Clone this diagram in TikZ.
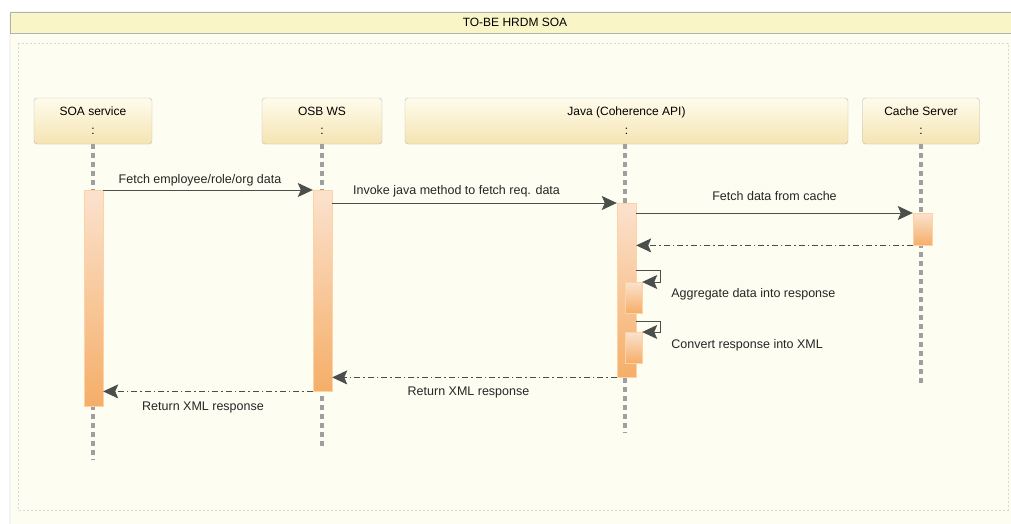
\documentclass[tikz,border=0pt]{standalone}
\usepackage{fontspec}
\setmainfont{Liberation Sans}
\usetikzlibrary{arrows.meta, positioning}
\definecolor{paper}{HTML}{FDFDF1}
\definecolor{band}{HTML}{FAF5C6}
\definecolor{headtop}{HTML}{FFFCEC}
\definecolor{headbot}{HTML}{F5E4B2}
\definecolor{bartop}{HTML}{FBE2CE}
\definecolor{barbot}{HTML}{F5AE68}
\definecolor{ink}{HTML}{4A4F4C}

\tikzset{
  head/.style={draw=gray!55, rounded corners=3pt, top color=headtop, bottom color=headbot,
    minimum height=46pt, align=center, font=\fontsize{12}{19}\selectfont, inner sep=0pt},
  life/.style={draw=gray!75, line width=3.5pt, dash pattern=on 5pt off 4pt},
  actbar/.style={draw=orange!35, top color=bartop, bottom color=barbot, minimum width=19pt,
    inner sep=0pt, anchor=north},
  msg/.style={draw=ink, line width=0.8pt, -{Stealth[length=15pt,width=14pt,inset=3pt]}},
  ret/.style={msg, dash pattern=on 6pt off 3pt on 1.5pt off 3pt},
  lbl/.style={font=\fontsize{12.5}{14}\selectfont, text=black!85, inner sep=1pt}
}

\begin{document}
\begin{tikzpicture}[x=1pt, y=-1pt]
\useasboundingbox (0,0) rectangle (1011,523);
\fill[white] (0,0) rectangle (1011,523);
\draw[gray!60, fill=paper, rounded corners=3pt] (10,12) rectangle (1030,560);
\draw[gray!60, fill=band] (10,12) rectangle (1030,33);
\node[font=\fontsize{12}{14}\selectfont] (title) at (515,22.5) {TO-BE HRDM SOA};
\draw[gray!30, dash pattern=on 2pt off 2pt] (18,43) rectangle (1008,510);

\node[head, minimum width=118pt] (soa) at (93,121) {SOA service\\:};
\node[head, minimum width=120pt] (osb) at (322,121) {OSB WS\\:};
\node[head, minimum width=443pt] (java) at (626.5,121) {Java (Coherence API)\\:};
\node[head, minimum width=117pt] (cache) at (921,121) {Cache Server\\:};

\coordinate (soaend) at (93,460);
\coordinate (osbend) at (322,447);
\coordinate (javaend) at (625,433);
\coordinate (cacheend) at (921,383);
\draw[life] (soa.south) -- (soaend);
\draw[life] (osb.south) -- (osbend);
\draw[life] ([xshift=-1.5pt]java.south) -- (javaend);
\draw[life] (cache.south) -- (cacheend);

\node[actbar, minimum height=216pt] (soabar) at (93.5,190) {};
\node[actbar, minimum height=201pt] (osbbar) at (322.5,190) {};
\node[actbar, minimum height=174pt] (javabar) at (626.5,203) {};
\node[actbar, minimum height=32pt] (cachebar) at (922.5,213) {};
\node[actbar, minimum width=17pt, minimum height=31pt] (aggbar) at (633.5,282) {};
\node[actbar, minimum width=17pt, minimum height=31pt] (xmlbar) at (633.5,332) {};

\draw[msg] (soabar.north east) -- (osbbar.north west)
  node[lbl, above=3pt, midway, xshift=-8pt] (m1) {Fetch employee/role/org data};
\draw[msg] (osbbar.east |- javabar.north) -- (javabar.north west)
  node[lbl, above=5pt, midway, xshift=-18pt] (m2) {Invoke java method to fetch req. data};
\draw[msg] (javabar.east |- cachebar.north) -- (cachebar.north west)
  node[lbl, above=11pt, midway] (m3) {Fetch data from cache};
\draw[ret] (cachebar.south west) -- (javabar.east |- cachebar.south);
\draw[msg] ([yshift=12pt]aggbar.north -| javabar.east) -- ++(24,0) |- (aggbar.north east);
\node[lbl, right=28pt of aggbar, yshift=3pt] (m4) {Aggregate data into response};
\draw[msg] ([yshift=11pt]xmlbar.north -| javabar.east) -- ++(24,0) |- (xmlbar.north east);
\node[lbl, right=28pt of xmlbar, yshift=2pt] (m5) {Convert response into XML};
\draw[ret] (javabar.south west) -- (osbbar.east |- javabar.south)
  node[lbl, below=8pt, midway, xshift=-6pt] (m6) {Return XML response};
\draw[ret] (osbbar.south west) -- (soabar.east |- osbbar.south)
  node[lbl, below=9pt, midway, xshift=-5pt] (m7) {Return XML response};
\end{tikzpicture}
\end{document}
